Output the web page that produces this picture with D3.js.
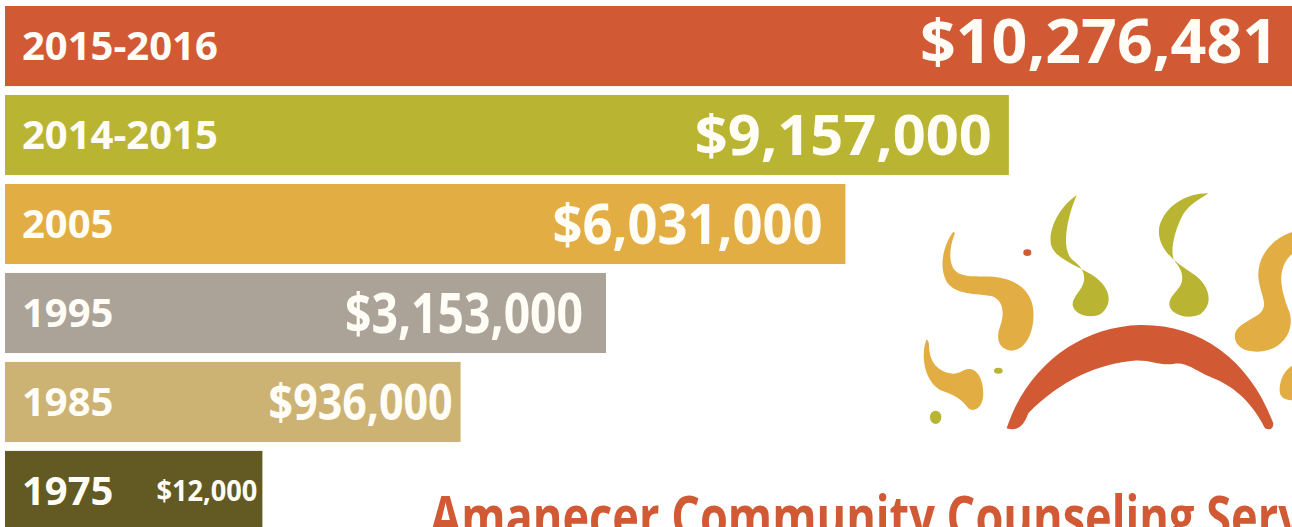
<!DOCTYPE html>
<html>
<head>
<meta charset="utf-8">
<script src="https://cdn.jsdelivr.net/npm/d3@7"></script>
<style>
  body { margin: 0; background: #fff; }
  svg { display: block; }
  text { font-family: "Open Sans", sans-serif; font-weight: 700; }
</style>
</head>
<body>
<div id="chart"></div>
<script>
var years = ["2015-2016", "2014-2015", "2005", "1995", "1985", "1975"];
var budgets = [10276481, 9157000, 6031000, 3153000, 936000, 12000];
// the bars are not to scale: drawn length as % of the longest bar
var barLength = [100, 78.0, 65.3, 46.7, 35.4, 20.0];

// styling per row
var barColors = ["#d15a34", "#b9b533", "#e2ae43", "#aba398", "#ccb373", "#625a22"];
var valueSize = [60, 56, 56, 56, 50, 28];
var valueWidth = [358, 297, 270, 238, 184, 101];
var valuePad = [14, 17, 23, 23, 8, 5];

var width = 1292, height = 527;

var svg = d3.select("#chart")
    .append("svg")
    .attr("width", width)
    .attr("height", height);

var rows = years.map((y, i) => ({
    year: y, budget: budgets[i], len: barLength[i],
    color: barColors[i], size: valueSize[i], tw: valueWidth[i], pad: valuePad[i]
}));

var x = d3.scaleLinear()
    .domain([0, 100])
    .range([5, width]);

var y = d3.scaleBand()
    .domain(years)
    .range([6, 531])
    .paddingInner(0.1)
    .paddingOuter(0);

var fmt = d3.format("$,");

var g = svg.selectAll(".row")
    .data(rows)
    .enter()
    .append("g")
    .attr("class", "row");

g.append("rect")
    .attr("x", x(0))
    .attr("y", d => y(d.year))
    .attr("width", d => x(d.len) - x(0))
    .attr("height", y.bandwidth())
    .style("fill", d => d.color);

g.append("text")
    .attr("x", 22)
    .attr("y", d => y(d.year) + y.bandwidth() / 2 + 14)
    .attr("font-size", 40)
    .attr("fill", "#fffdf6")
    .text(d => d.year);

g.append("text")
    .attr("x", d => x(d.len) - d.pad)
    .attr("y", d => y(d.year) + y.bandwidth() / 2 + d.size * 0.357 - (d.size > 58 ? 4 : 0))
    .attr("text-anchor", "end")
    .attr("font-size", d => d.size)
    .attr("textLength", d => d.tw)
    .attr("lengthAdjust", "spacingAndGlyphs")
    .attr("fill", "#fffdf6")
    .text(d => fmt(d.budget));

// sun logo, drawn in 3x coordinates
var logo = svg.append("g")
    .attr("transform", "translate(900,180) scale(0.3333)");

var yellow = "#e2ae43", green = "#b9b533", red = "#d15a34";

var shapes = [
    // sun arc
    [red, "M320,745 C380,560 540,440 720,435 C900,432 1050,540 1120,730 Q1120,755 1095,745 C1050,655 990,615 940,595 C880,570 860,545 820,552 C780,558 750,538 700,542 C600,550 480,600 385,700 Q365,760 320,745 Z"],
    // green flames
    [green, "M530,45 C480,80 448,140 452,188 C458,232 520,252 572,282 C632,318 642,372 602,402 C570,418 522,404 518,376 C516,350 548,330 552,302 C556,272 538,256 518,240 C488,214 498,150 508,110 C515,84 524,60 530,45 Z"],
    [green, "M925,40 C870,38 798,70 778,140 C768,202 820,242 872,277 C932,312 942,372 902,402 C862,422 808,402 808,372 C808,345 842,330 846,303 C850,278 838,260 826,246 C806,220 824,150 850,102 C870,72 900,58 925,40 Z"],
    // yellow flames
    [yellow, "M160,155 C130,195 115,260 140,305 C165,345 230,340 275,348 C310,360 315,400 300,440 C285,480 300,510 335,512 C380,510 405,450 400,390 C395,330 345,295 280,290 C220,288 180,295 160,265 C145,240 150,195 165,160 Z"],
    [yellow, "M80,478 C62,520 70,600 120,630 C160,645 185,655 205,685 C225,700 250,680 250,640 C250,595 230,565 205,567 C185,570 175,585 150,580 C115,575 90,545 88,510 C87,495 88,485 80,478 Z"],
    [yellow, "M1180,155 C1115,175 1072,230 1075,290 C1080,345 1108,372 1080,400 C1050,425 1000,435 1005,475 C1010,515 1070,525 1120,505 C1170,480 1180,430 1168,395 C1150,350 1135,300 1150,260 C1160,235 1172,225 1180,220 Z"],
    [yellow, "M1180,555 C1150,570 1135,610 1140,640 C1145,660 1170,662 1180,660 Z"]
];

logo.selectAll("path")
    .data(shapes)
    .enter()
    .append("path")
    .attr("d", d => d[1])
    .style("fill", d => d[0]);

logo.append("ellipse").attr("cx", 382).attr("cy", 218).attr("rx", 12).attr("ry", 10).style("fill", red);
logo.append("ellipse").attr("cx", 295).attr("cy", 572).attr("rx", 13).attr("ry", 9).style("fill", green);
logo.append("ellipse").attr("cx", 107).attr("cy", 712).attr("rx", 17).attr("ry", 20).style("fill", green);

// organisation name, cut off by the bottom edge as in the original
svg.append("text")
    .attr("x", 430)
    .attr("y", 537)
    .attr("font-size", 58)
    .attr("textLength", 960)
    .attr("lengthAdjust", "spacingAndGlyphs")
    .attr("fill", red)
    .text("Amanecer Community Counseling Services");
</script>
</body>
</html>
